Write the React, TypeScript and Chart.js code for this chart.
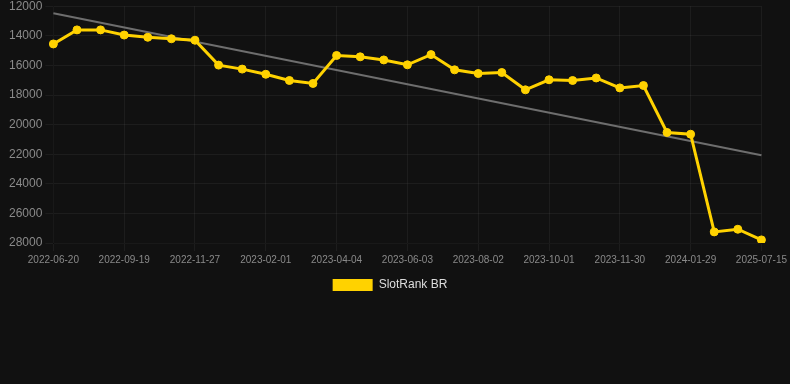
import React, { useEffect, useRef } from "react";
import { Chart, registerables } from "chart.js";

Chart.register(...registerables);

const labels: string[] = [
  "2022-06-20", "2022-07-20", "2022-08-19", "2022-09-19", "2022-10-12", "2022-11-04",
  "2022-11-27", "2022-12-19", "2023-01-10", "2023-02-01", "2023-02-22", "2023-03-14",
  "2023-04-04", "2023-04-24", "2023-05-14", "2023-06-03", "2023-06-23", "2023-07-13",
  "2023-08-02", "2023-08-22", "2023-09-11", "2023-10-01", "2023-10-21", "2023-11-10",
  "2023-11-30", "2023-12-20", "2024-01-09", "2024-01-29", "2024-02-18", "2024-03-09",
  "2025-07-15",
];

const rankValues: number[] = [
  14550, 13600, 13600, 13950, 14100, 14200, 14300, 15980, 16250, 16600, 17020, 17220,
  15330, 15420, 15630, 15960, 15270, 16300, 16550, 16480, 17650, 16970, 17020, 16850,
  17520, 17360, 20530, 20650, 27250, 27070, 27790,
];

const trendStart = 12470;
const trendEnd = 22070;

const yTicksMin = 12000;
const yTicksMax = 28000;

export default function App() {
  const ref = useRef<HTMLCanvasElement | null>(null);

  useEffect(() => {
    document.body.style.margin = "0";
    document.body.style.background = "#111111";
    if (!ref.current) return;
    const trend = labels.map((_, i) =>
      i === 0 ? trendStart : i === labels.length - 1 ? trendEnd : null
    );
    const chart = new Chart(ref.current, {
      type: "line",
      data: {
        labels,
        datasets: [
          {
            label: "SlotRank BR",
            data: rankValues,
            borderColor: "#FFD200",
            backgroundColor: "#FFD200",
            pointBackgroundColor: "#FFD200",
            pointBorderColor: "#FFD200",
            borderWidth: 3,
            pointRadius: 4,
            pointBorderWidth: 1,
            tension: 0,
          },
          {
            label: "trend",
            data: trend,
            borderColor: "#6e6e6e",
            backgroundColor: "#6e6e6e",
            borderWidth: 2,
            pointRadius: 0,
            spanGaps: true,
          },
        ],
      },
      options: {
        animation: false,
        responsive: true,
        maintainAspectRatio: false,
        layout: { padding: { left: 6, right: 16, top: 0, bottom: 0 } },
        plugins: {
          legend: {
            position: "bottom",
            labels: {
              color: "#dddddd",
              font: { size: 12, family: "Arial, 'Liberation Sans', sans-serif" },
              boxWidth: 40,
              boxHeight: 12,
              generateLabels: (c) =>
                Chart.defaults.plugins.legend.labels
                  .generateLabels(c)
                  .filter((it) => it.text !== "trend")
                  .map((it) => ({ ...it, lineWidth: 0 })),
            },
          },
          tooltip: { enabled: false },
        },
        scales: {
          x: {
            grid: { color: "rgba(255,255,255,0.05)" },
            ticks: {
              color: "#8a8a8a",
              font: { size: 10, family: "Arial, 'Liberation Sans', sans-serif" },
              maxRotation: 0,
              autoSkip: true,
            },
          },
          y: {
            reverse: true,
            min: yTicksMin,
            max: yTicksMax,
            grid: { color: "rgba(255,255,255,0.05)" },
            ticks: {
              stepSize: 2000,
              color: "#8a8a8a",
              font: { size: 12, family: "Arial, 'Liberation Sans', sans-serif" },
              callback: (v) => String(v),
            },
          },
        },
      },
    });
    return () => chart.destroy();
  }, []);

  return (
    <div style={{ width: 790, height: 305, marginTop: -4, position: "relative", background: "#111111" }}>
      <canvas ref={ref} />
    </div>
  );
}
